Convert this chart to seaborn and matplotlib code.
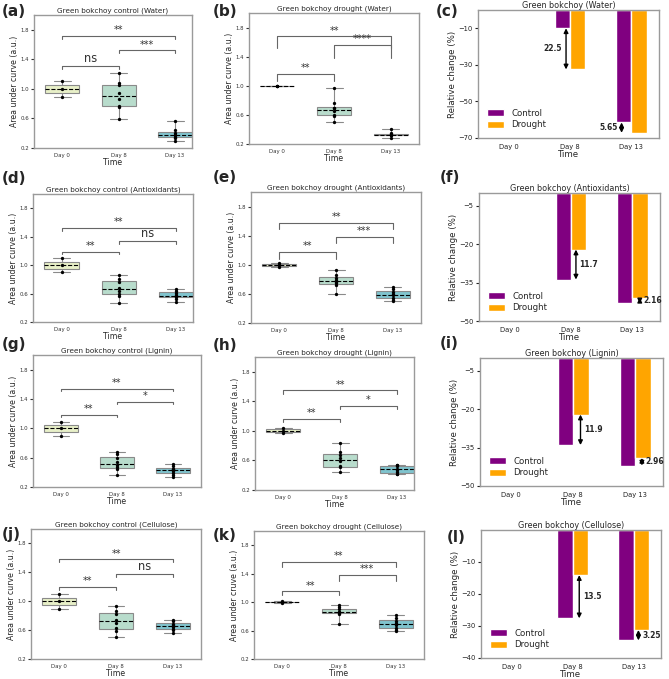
import numpy as np
import pandas as pd
import seaborn as sns
import matplotlib.pyplot as plt

days = ["Day 0", "Day 8", "Day 13"]

# area under curve samples (Day 0, Day 8, Day 13)
water_control = [[0.89, 1.00, 1.11],
                 [0.59, 0.75, 0.77, 0.86, 0.95, 1.05, 1.08, 1.21],
                 [0.30, 0.34, 0.35, 0.37, 0.38, 0.40, 0.45, 0.56]]
water_drought = [[1.00, 1.00, 1.00],
                 [0.50, 0.59, 0.60, 0.65, 0.69, 0.70, 0.76, 0.97],
                 [0.28, 0.32, 0.32, 0.33, 0.33, 0.34, 0.35, 0.40]]
antiox_control = [[0.90, 1.00, 1.10],
                  [0.47, 0.56, 0.60, 0.64, 0.68, 0.76, 0.80, 0.86],
                  [0.48, 0.53, 0.55, 0.56, 0.58, 0.61, 0.64, 0.66]]
antiox_drought = [[0.97, 1.00, 1.03],
                  [0.60, 0.72, 0.75, 0.77, 0.79, 0.82, 0.86, 0.93],
                  [0.50, 0.52, 0.55, 0.58, 0.60, 0.63, 0.67, 0.70]]
lignin_control = [[0.90, 1.00, 1.09],
                  [0.37, 0.44, 0.47, 0.50, 0.54, 0.60, 0.65, 0.68],
                  [0.34, 0.37, 0.39, 0.42, 0.44, 0.45, 0.49, 0.52]]
lignin_drought = [[0.97, 1.00, 1.04],
                  [0.45, 0.51, 0.52, 0.59, 0.63, 0.67, 0.72, 0.83],
                  [0.41, 0.42, 0.44, 0.47, 0.49, 0.52, 0.54, 0.54]]
cellulose_control = [[0.89, 1.00, 1.10],
                     [0.51, 0.59, 0.63, 0.70, 0.74, 0.82, 0.87, 0.93],
                     [0.56, 0.60, 0.62, 0.65, 0.67, 0.69, 0.72, 0.74]]
cellulose_drought = [[0.99, 1.00, 1.01],
                     [0.69, 0.83, 0.85, 0.86, 0.86, 0.90, 0.93, 0.96],
                     [0.59, 0.61, 0.64, 0.68, 0.70, 0.73, 0.78, 0.82]]

# significance labels for pairs (Day0-Day13, Day8-Day13, Day0-Day8)
sig_pairs = [(0, 2), (1, 2), (0, 1)]
sig_water_control = ["**", "***", "ns"]
sig_water_drought = ["**", "****", "**"]
sig_antiox_control = ["**", "ns", "**"]
sig_antiox_drought = ["**", "***", "**"]
sig_lignin_control = ["**", "*", "**"]
sig_lignin_drought = ["**", "*", "**"]
sig_cellulose_control = ["**", "ns", "**"]
sig_cellulose_drought = ["**", "***", "**"]

# relative change (%) per day
water_rel_control = [0, -10.0, -61.5]
water_rel_drought = [0, -32.5, -67.15]
antiox_rel_control = [0, -33.8, -43.1]
antiox_rel_drought = [0, -22.1, -40.94]
lignin_rel_control = [0, -34.0, -42.0]
lignin_rel_drought = [0, -22.1, -39.04]
cellulose_rel_control = [0, -27.6, -34.5]
cellulose_rel_drought = [0, -14.1, -31.25]

box_colors = ["#e8f0c8", "#b8dccc", "#80c4ce"]
bar_colors = ["#800080", "#ffa500"]
spine_col = "#9a9a9a"

sns.set_style("white")
plt.rcParams['font.family'] = ['DejaVu Sans']

fig = plt.figure(figsize=(6.69, 6.79), dpi=100)


def px_axes(l, t, r, b):
    return fig.add_axes([l / 669, 1 - b / 679, (r - l) / 669, (b - t) / 679])


def style_spines(ax):
    for s in ax.spines.values():
        s.set_color(spine_col)
        s.set_linewidth(1.0)


def box_panel(ax, samples, title, ylabel, sig, tops, bots, xmax):
    df = pd.DataFrame({"Time": [d for d, s in zip(days, samples) for _ in s],
                       "auc": [v for s in samples for v in s]})
    sns.boxplot(data=df, x="Time", y="auc", hue="Time", palette=box_colors,
                width=0.6, whis=(0, 100), linecolor="#8a8a8a", linewidth=0.8,
                legend=False, saturation=1,
                medianprops=dict(color="black", linestyle="--", linewidth=0.8),
                ax=ax)
    sns.stripplot(data=df, x="Time", y="auc", color="black", size=2.4,
                  jitter=False, ax=ax, zorder=5)
    for (i, j), lab, top, bot in zip(sig_pairs, sig, tops, bots):
        ax.plot([i, i, j, j], [bot, top, top, bot], color="#666666", lw=0.8)
        ax.text((i + j) / 2, top + 0.01, lab, ha="center", va="bottom",
                fontsize=8.3 if lab == "ns" else 7, color="#333333")
    ax.set_xlim(-0.5, xmax)
    ax.set_ylim(0.2, 2.0)
    ax.set_yticks([0.2, 0.6, 1.0, 1.4, 1.8])
    ax.tick_params(labelsize=3.9, length=2, pad=1.5, left=True, colors="#333333")
    ax.set_title(title, fontsize=5.2, pad=1.5)
    ax.set_ylabel(ylabel, fontsize=5.6, labelpad=1)
    ax.set_xlabel("Time", fontsize=5.6, labelpad=0)
    style_spines(ax)


def bar_panel(ax, ctrl, drought, title, ylim, yticks, dx, side):
    df = pd.DataFrame({"Time": days * 2, "change": ctrl + drought,
                       "group": ["Control"] * 3 + ["Drought"] * 3})
    sns.barplot(data=df, x="Time", y="change", hue="group", palette=bar_colors,
                width=0.5, errorbar=None, saturation=1, ax=ax)
    for k in (1, 2):
        c, d = ctrl[k], drought[k]
        x = k + dx[k - 1]
        ax.annotate("", xy=(x, c), xytext=(x, d),
                    arrowprops=dict(arrowstyle="<|-|>", color="black", lw=1.0,
                                    mutation_scale=6.5, shrinkA=0, shrinkB=0))
        ax.text(x + side * 0.06, (c + d) / 2, f"{abs(c - d):.3g}",
                ha="left" if side > 0 else "right", va="center",
                fontsize=5.5, fontweight="bold")
    h, l = ax.get_legend_handles_labels()
    ax.legend(h, l, loc="lower left", frameon=False, fontsize=6.2,
              handlelength=2.0, handleheight=0.85, labelspacing=0.3,
              handletextpad=0.9, borderaxespad=0.6)
    ax.set_xlim(-0.5, 2.45)
    ax.set_ylim(*ylim)
    ax.set_yticks(yticks)
    ax.tick_params(labelsize=4.9, length=2.5, pad=1.5, left=True, colors="#222222")
    ax.set_title(title, fontsize=5.8, pad=1.5)
    ax.set_ylabel("Relative change (%)", fontsize=6.2, labelpad=1)
    ax.set_xlabel("Time", fontsize=6.2, labelpad=0)
    style_spines(ax)


# row 1 - water
box_panel(px_axes(34, 15, 192, 148), water_control, "Green bokchoy control (Water)",
          "Area under curve (a.u.)", sig_water_control,
          [1.72, 1.52, 1.31], [1.68, 1.48, 1.27], 2.3)
box_panel(px_axes(249, 13, 419, 144), water_drought, "Green bokchoy drought (Water)",
          "Area under curve (a.u.)", sig_water_drought,
          [1.68, 1.56, 1.16], [1.52, 1.38, 1.06], 2.5)
bar_panel(px_axes(478, 10, 659, 138), water_rel_control, water_rel_drought,
          "Green bokchoy (Water)", (-70, 0), [-10, -30, -50, -70], [-0.065, -0.16], -1)

# row 2 - antioxidants
box_panel(px_axes(33, 194, 193, 322), antiox_control, "Green bokchoy control (Antioxidants)",
          "Area under curve (a.u.)", sig_antiox_control,
          [1.52, 1.34, 1.19], [1.48, 1.30, 1.16], 2.3)
box_panel(px_axes(251, 192, 421, 323), antiox_drought, "Green bokchoy drought (Antioxidants)",
          "Area under curve (a.u.)", sig_antiox_drought,
          [1.58, 1.38, 1.18], [1.49, 1.30, 1.08], 2.5)
bar_panel(px_axes(479, 193, 660, 321), antiox_rel_control, antiox_rel_drought,
          "Green bokchoy (Antioxidants)", (-50, 0), [-5, -20, -35, -50], [0.08, 0.12], 1)

# row 3 - lignin
box_panel(px_axes(33, 355, 201, 487), lignin_control, "Green bokchoy control (Lignin)",
          "Area under curve (a.u.)", sig_lignin_control,
          [1.54, 1.36, 1.18], [1.51, 1.33, 1.15], 2.5)
box_panel(px_axes(255, 357, 414, 490), lignin_drought, "Green bokchoy drought (Lignin)",
          "Area under curve (a.u.)", sig_lignin_drought,
          [1.55, 1.34, 1.16], [1.50, 1.29, 1.12], 2.3)
bar_panel(px_axes(480, 358, 663, 486), lignin_rel_control, lignin_rel_drought,
          "Green bokchoy (Lignin)", (-50, 0), [-5, -20, -35, -50], [0.12, 0.11], 1)

# row 4 - cellulose
box_panel(px_axes(31, 529, 201, 659), cellulose_control, "Green bokchoy control (Cellulose)",
          "Area under curve (a.u.)", sig_cellulose_control,
          [1.58, 1.38, 1.20], [1.54, 1.34, 1.16], 2.5)
box_panel(px_axes(254, 531, 424, 659), cellulose_drought, "Green bokchoy drought (Cellulose)",
          "Area under cruve (a.u.)", sig_cellulose_drought,
          [1.57, 1.38, 1.15], [1.49, 1.30, 1.10], 2.5)
bar_panel(px_axes(481, 530, 661, 658), cellulose_rel_control, cellulose_rel_drought,
          "Green bokchoy (Cellulose)", (-40, 0), [-10, -20, -30, -40], [0.11, 0.08], 1)

panel_labels = ["(a)", "(b)", "(c)", "(d)", "(e)", "(f)",
                "(g)", "(h)", "(i)", "(j)", "(k)", "(l)"]
label_pos = [(2, 11), (213, 11), (436, 11), (2, 179), (213, 178), (440, 177),
             (2, 345), (213, 345), (440, 344), (2, 535), (213, 536), (447, 537)]
for lab, (x, y) in zip(panel_labels, label_pos):
    fig.text(x / 669, 1 - y / 679, lab, fontsize=11, fontweight="bold",
             ha="left", va="center")

fig.savefig("out.png", dpi=100)
